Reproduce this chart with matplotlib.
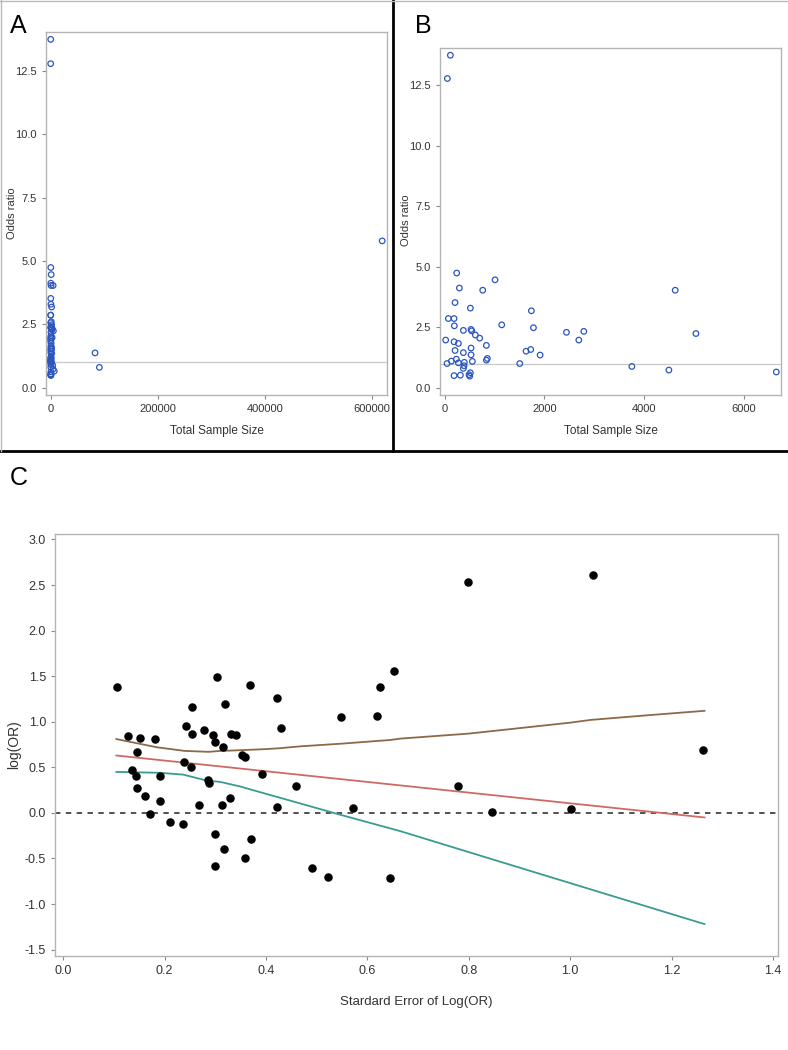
import matplotlib
matplotlib.use("Agg")
import matplotlib.pyplot as plt
from matplotlib.lines import Line2D

# Panel B: studies with total sample size < 7000 (also shown in panel A)
tamanho_b = [114, 54, 241, 1011, 295, 764, 4628, 208, 516, 1741, 74, 188, 194,
             1145, 1782, 375, 529, 543, 2445, 2793, 5044, 616, 703, 20, 2693,
             188, 275, 837, 529, 208, 1634, 1728, 375, 529, 1916, 857, 837, 234,
             134, 47, 275, 556, 395, 1507, 389, 375, 3758, 4501, 6658, 516, 489,
             503, 188, 315]
odds_b = [13.74, 12.78, 4.74, 4.46, 4.12, 4.03, 4.03, 3.52, 3.29, 3.18, 2.86,
          2.86, 2.56, 2.60, 2.48, 2.37, 2.41, 2.35, 2.29, 2.33, 2.24, 2.18, 2.05,
          1.97, 1.97, 1.90, 1.83, 1.75, 1.64, 1.54, 1.51, 1.58, 1.45, 1.36, 1.35,
          1.21, 1.14, 1.18, 1.10, 1.00, 1.03, 1.09, 1.05, 1.00, 0.91, 0.80, 0.88,
          0.73, 0.65, 0.62, 0.54, 0.48, 0.50, 0.52]

# Panel A: the large studies
tamanho_extra = [82900, 91000, 619000]
odds_extra = [1.37, 0.80, 5.79]

# Panel C: funnel plot data
erro_padrao = [0.107, 0.128, 0.136, 0.143, 0.146, 0.146, 0.152, 0.161, 0.172,
               0.181, 0.192, 0.192, 0.211, 0.237, 0.239, 0.243, 0.252, 0.254,
               0.254, 0.268, 0.277, 0.285, 0.287, 0.295, 0.299, 0.300, 0.300,
               0.304, 0.316, 0.314, 0.320, 0.318, 0.329, 0.331, 0.341, 0.352,
               0.358, 0.359, 0.369, 0.370, 0.392, 0.421, 0.421, 0.430, 0.460,
               0.490, 0.523, 0.549, 0.572, 0.619, 0.625, 0.644, 0.653, 0.779,
               0.798, 0.845, 1.002, 1.045, 1.262]
log_or = [1.38, 0.845, 0.47, 0.40, 0.67, 0.27, 0.82, 0.18, -0.01, 0.81, 0.13,
          0.40, -0.095, -0.12, 0.56, 0.95, 0.50, 1.16, 0.87, 0.09, 0.91, 0.36,
          0.33, 0.86, 0.78, -0.23, -0.58, 1.49, 0.72, 0.09, 1.19, -0.40, 0.16,
          0.87, 0.86, 0.64, 0.61, -0.50, 1.40, -0.29, 0.43, 1.26, 0.07, 0.93,
          0.30, -0.60, -0.70, 1.05, 0.05, 1.06, 1.38, -0.71, 1.555, 0.30, 2.53,
          0.01, 0.047, 2.61, 0.69]

# Curvas do panel C
curva_x = [0.105, 0.185, 0.24, 0.287, 0.31, 0.336, 0.40, 0.428, 0.467, 0.55,
           0.645, 0.665, 0.80, 0.90, 1.00, 1.04, 1.15, 1.265]
curva_sup = [0.81, 0.72, 0.68, 0.67, 0.68, 0.685, 0.70, 0.71, 0.73, 0.76,
             0.80, 0.815, 0.87, 0.93, 0.99, 1.02, 1.07, 1.12]
reta_x = [0.105, 1.265]
reta_meio = [0.63, -0.05]
curva_inf_x = [0.105, 0.19, 0.237, 0.283, 0.31, 0.349, 0.408, 0.421, 0.54,
               0.665, 0.80, 1.00, 1.265]
curva_inf = [0.45, 0.44, 0.42, 0.355, 0.34, 0.29, 0.197, 0.177, -0.01, -0.20,
             -0.43, -0.77, -1.22]

plt.rcParams['font.family'] = ['Liberation Sans', 'DejaVu Sans']

fig = plt.figure(figsize=(7.88, 10.5), dpi=100)
W, H = 788.0, 1050.0
cinza = '#333333'


def box(l, t, r, b):
    return [l / W, 1 - b / H, (r - l) / W, (b - t) / H]


def estilo(ax, size):
    for s in ax.spines.values():
        s.set_color('#b4b4b4')
        s.set_linewidth(1)
    ax.tick_params(direction='out', length=3, width=0.8, color='#888888',
                   labelcolor=cinza, labelsize=size)


azul = '#2c55c0'

# Panel A
axA = fig.add_axes(box(46, 32, 387, 395))
axA.scatter(tamanho_b + tamanho_extra, odds_b + odds_extra, s=16,
            facecolors='none', edgecolors=azul, linewidths=0.9, zorder=3)
axA.axhline(1, color='#c8c8c8', lw=0.9, zorder=1)
axA.set_xlim(-8700, 628000)
axA.set_ylim(-0.29, 14.03)
axA.set_xticks([0, 200000, 400000, 600000])
axA.set_xticklabels(['0', '200000', '400000', '600000'])
axA.set_yticks([0, 2.5, 5, 7.5, 10, 12.5])
axA.set_yticklabels(['0.0', '2.5', '5.0', '7.5', '10.0', '12.5'])
estilo(axA, 8)
axA.set_xlabel('Total Sample Size', fontsize=8.5, color=cinza, labelpad=8)

# Panel B
axB = fig.add_axes(box(440, 48, 781, 395))
axB.scatter(tamanho_b, odds_b, s=16, facecolors='none', edgecolors=azul,
            linewidths=0.9, zorder=3)
axB.axhline(1, color='#c8c8c8', lw=0.9, zorder=1)
axB.set_xlim(-94, 6752)
axB.set_ylim(-0.30, 14.04)
axB.set_xticks([0, 2000, 4000, 6000])
axB.set_yticks([0, 2.5, 5, 7.5, 10, 12.5])
axB.set_yticklabels(['0.0', '2.5', '5.0', '7.5', '10.0', '12.5'])
estilo(axB, 8)
axB.set_xlabel('Total Sample Size', fontsize=8.5, color=cinza, labelpad=8)

# rotulos do eixo y de A e B
fig.text(12 / W, 1 - 213 / H, 'Odds ratio', rotation=90, fontsize=8,
         color=cinza, ha='center', va='center')
fig.text(406 / W, 1 - 220 / H, 'Odds ratio', rotation=90, fontsize=8,
         color=cinza, ha='center', va='center')

# Panel C
axC = fig.add_axes(box(55, 534, 778, 956))
axC.plot(curva_x, curva_sup, color='#8b6a48', lw=1.3, zorder=2)
axC.plot(reta_x, reta_meio, color='#cc6b66', lw=1.3, zorder=2)
axC.plot(curva_inf_x, curva_inf, color='#3a9b92', lw=1.3, zorder=2)
axC.axhline(0, color='#444444', lw=1.3, ls=(0, (3, 3)), zorder=1)
axC.scatter(erro_padrao, log_or, s=26, color='black', zorder=3)
axC.set_xlim(-0.016, 1.41)
axC.set_ylim(-1.57, 3.06)
axC.set_xticks([0, 0.2, 0.4, 0.6, 0.8, 1.0, 1.2, 1.4])
axC.set_xticklabels(['0.0', '0.2', '0.4', '0.6', '0.8', '1.0', '1.2', '1.4'])
axC.set_yticks([-1.5, -1.0, -0.5, 0, 0.5, 1.0, 1.5, 2.0, 2.5, 3.0])
axC.set_yticklabels(['-1.5', '-1.0', '-0.5', '0.0', '0.5', '1.0', '1.5', '2.0', '2.5', '3.0'])
estilo(axC, 9)
axC.set_xlabel('Stardard Error of Log(OR)', fontsize=9.5, color=cinza, labelpad=14)
fig.text(14 / W, 1 - 745 / H, 'log(OR)', rotation=90, fontsize=10,
         color=cinza, ha='center', va='center')

# Letras dos paineis
fig.text(10 / W, 1 - 33 / H, 'A', fontsize=18)
fig.text(415 / W, 1 - 33 / H, 'B', fontsize=18)
fig.text(10 / W, 1 - 485 / H, 'C', fontsize=18)

# Moldura dos paineis de cima
fig.add_artist(Line2D([0, 1], [1 - 451 / H] * 2, color='black', lw=2))
fig.add_artist(Line2D([393 / W] * 2, [1 - 451 / H, 1], color='black', lw=2))
fig.add_artist(Line2D([0, 1], [1 - 0.5 / H] * 2, color='#bbbbbb', lw=1))
fig.add_artist(Line2D([0.5 / W] * 2, [1 - 451 / H, 1], color='#bbbbbb', lw=1))

fig.savefig('out.png', dpi=100)
